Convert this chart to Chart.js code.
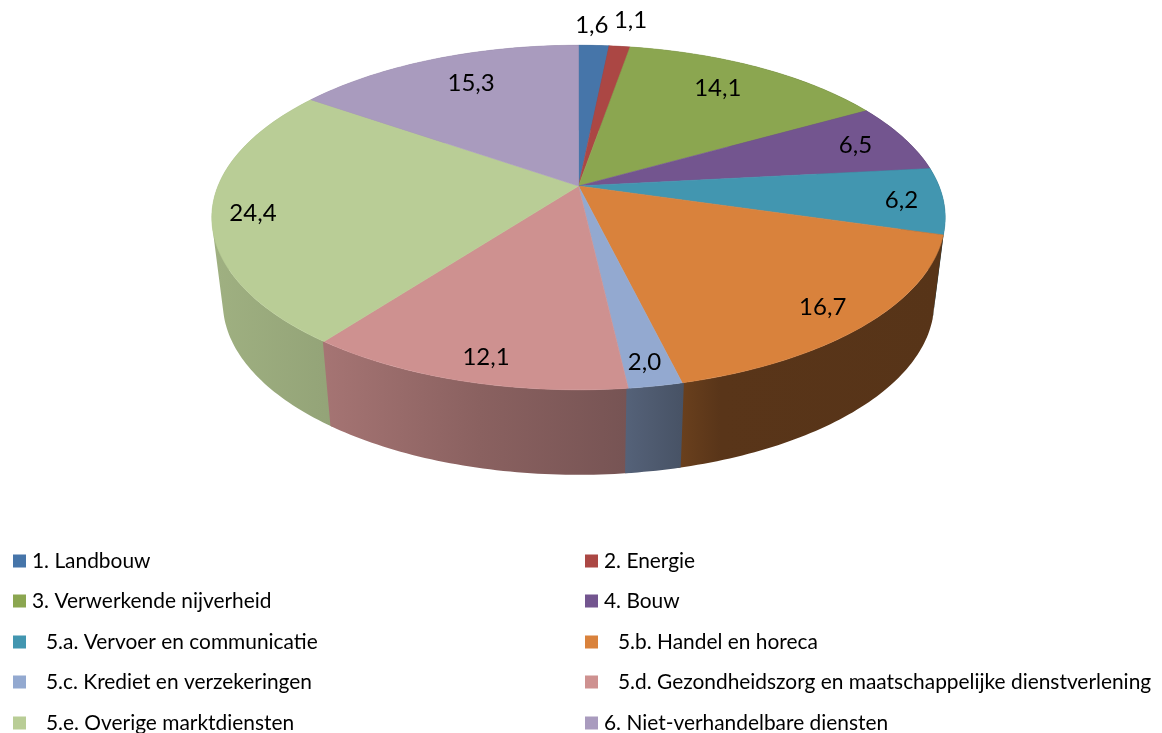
<!DOCTYPE html>
<html>
<head>
<meta charset="utf-8">
<style>
  html, body { margin: 0; padding: 0; background: #fff; }
  canvas { display: block; }
</style>
<script src="https://cdn.jsdelivr.net/npm/chart.js@4"></script>
</head>
<body>
<canvas id="pie" width="1162" height="733"></canvas>
<script>
const categories = [
  '1. Landbouw',
  '2. Energie',
  '3. Verwerkende nijverheid',
  '4. Bouw',
  '5.a. Vervoer en communicatie',
  '5.b. Handel en horeca',
  '5.c. Krediet en verzekeringen',
  '5.d. Gezondheidszorg en maatschappelijke dienstverlening',
  '5.e. Overige marktdiensten',
  '6. Niet-verhandelbare diensten'
];
const shares = [1.6, 1.1, 14.1, 6.5, 6.2, 16.7, 2.0, 12.1, 24.4, 15.3];
const sliceColors = ['#4675a9', '#ab4744', '#8ba650', '#73558f', '#4296b0', '#d9823c', '#93a9d0', '#ce9190', '#b9cd96', '#a99bbe'];

// label offset from the rim point in the middle of each slice
const labelShift = [[-2, -20], [11, -26], [-41, 21], [-48, 8], [-42, -1], [-43, -17], [-11, -24], [23, -24], [41, 0], [36, 24]];

// perspective of the pie
const apexX = 578.5, apexY = 186, radiusX = 360.5, radiusY = 166.5, tilt = 0.183;
const depth = 85, wallScale = 0.97;

// how dark the outer wall gets from left to right
const wallShade = [[215, 0.86], [325, 0.8], [480, 0.67], [625, 0.58], [680, 0.49], [720, 0.41], [946, 0.4]];

function project(theta, r) {
  const u = Math.cos(theta) * r, v = Math.sin(theta) * r;
  const w = 1 - tilt * v;
  return [apexX + radiusX * u / w, apexY + radiusY * v / w];
}

function shade(hex, f) {
  const n = parseInt(hex.slice(1), 16);
  return `rgb(${Math.round((n >> 16) * f)},${Math.round(((n >> 8) & 255) * f)},${Math.round((n & 255) * f)})`;
}

function rimPoints(a0, a1) {
  const pts = [];
  const steps = Math.max(2, Math.ceil((a1 - a0) * 60));
  for (let i = 0; i <= steps; i++) {
    pts.push(project(a0 + (a1 - a0) * i / steps, 1));
  }
  return pts;
}

function drawWall(ctx, arc, color) {
  const top = rimPoints(arc.startAngle - 0.004, arc.endAngle + 0.004);
  const grad = ctx.createLinearGradient(215, 0, 946, 0);
  wallShade.forEach(([x, f]) => grad.addColorStop((x - 215) / 731, shade(color, f)));
  // all rim steps go in one path with the same winding, so no seams and the sides get filled
  ctx.beginPath();
  for (let i = 0; i < top.length - 1; i++) {
    const a = top[i], b = top[i + 1];
    const a2 = [apexX + (a[0] - apexX) * wallScale, a[1] + depth];
    const b2 = [apexX + (b[0] - apexX) * wallScale, b[1] + depth];
    const quad = [a, b, b2, a2];
    let area = 0;
    quad.forEach((p, k) => {
      const q = quad[(k + 1) % 4];
      area += p[0] * q[1] - q[0] * p[1];
    });
    if (area < 0) quad.reverse();
    quad.forEach((p, k) => (k ? ctx.lineTo(p[0], p[1]) : ctx.moveTo(p[0], p[1])));
    ctx.closePath();
  }
  ctx.fillStyle = grad;
  ctx.fill();
}

function drawTop(ctx, arc, color) {
  ctx.beginPath();
  ctx.moveTo(apexX, apexY);
  rimPoints(arc.startAngle, arc.endAngle).forEach(p => ctx.lineTo(p[0], p[1]));
  ctx.closePath();
  ctx.fillStyle = color;
  ctx.strokeStyle = color;
  ctx.lineWidth = 0.6;
  ctx.fill();
  ctx.stroke();
}

const pie3d = {
  id: 'pie3d',
  beforeDatasetsDraw(chart) {
    const ctx = chart.ctx;
    const arcs = chart.getDatasetMeta(0).data;
    const colors = chart.data.datasets[0].backgroundColor;
    const order = arcs.map((a, i) => i).sort((a, b) =>
      Math.sin((arcs[a].startAngle + arcs[a].endAngle) / 2) - Math.sin((arcs[b].startAngle + arcs[b].endAngle) / 2));

    ctx.save();
    order.forEach(i => drawWall(ctx, arcs[i], colors[i]));
    arcs.forEach((a, i) => drawTop(ctx, a, colors[i]));

    // value labels
    ctx.fillStyle = '#000';
    ctx.font = '24px Lato';
    ctx.textAlign = 'center';
    ctx.textBaseline = 'middle';
    arcs.forEach((a, i) => {
      const p = project((a.startAngle + a.endAngle) / 2, 1);
      const text = chart.data.datasets[0].data[i].toFixed(1).replace('.', ',');
      ctx.fillText(text, p[0] + labelShift[i][0], p[1] + labelShift[i][1]);
    });
    ctx.restore();
    return false;
  },
  afterDraw(chart) {
    const ctx = chart.ctx;
    const rows = [561, 601, 642, 682, 723];
    ctx.save();
    ctx.font = '20.9px Lato';
    ctx.textAlign = 'left';
    ctx.textBaseline = 'middle';
    chart.data.labels.forEach((label, i) => {
      const col = i % 2;
      const y = rows[Math.floor(i / 2)];
      const box = col ? 585 : 13;
      const indent = label.startsWith('5.') ? 33 : 19;
      ctx.fillStyle = chart.data.datasets[0].backgroundColor[i];
      ctx.fillRect(box, y - 6.5, 13, 13);
      ctx.fillStyle = '#000';
      ctx.fillText(label, box + indent, y);
    });
    ctx.restore();
  }
};

new Chart(document.getElementById('pie'), {
  type: 'pie',
  data: {
    labels: categories,
    datasets: [{ data: shares, backgroundColor: sliceColors, borderWidth: 0 }]
  },
  options: {
    responsive: false,
    animation: false,
    plugins: {
      legend: { display: false },
      tooltip: { enabled: false }
    }
  },
  plugins: [pie3d]
});
</script>
</body>
</html>
